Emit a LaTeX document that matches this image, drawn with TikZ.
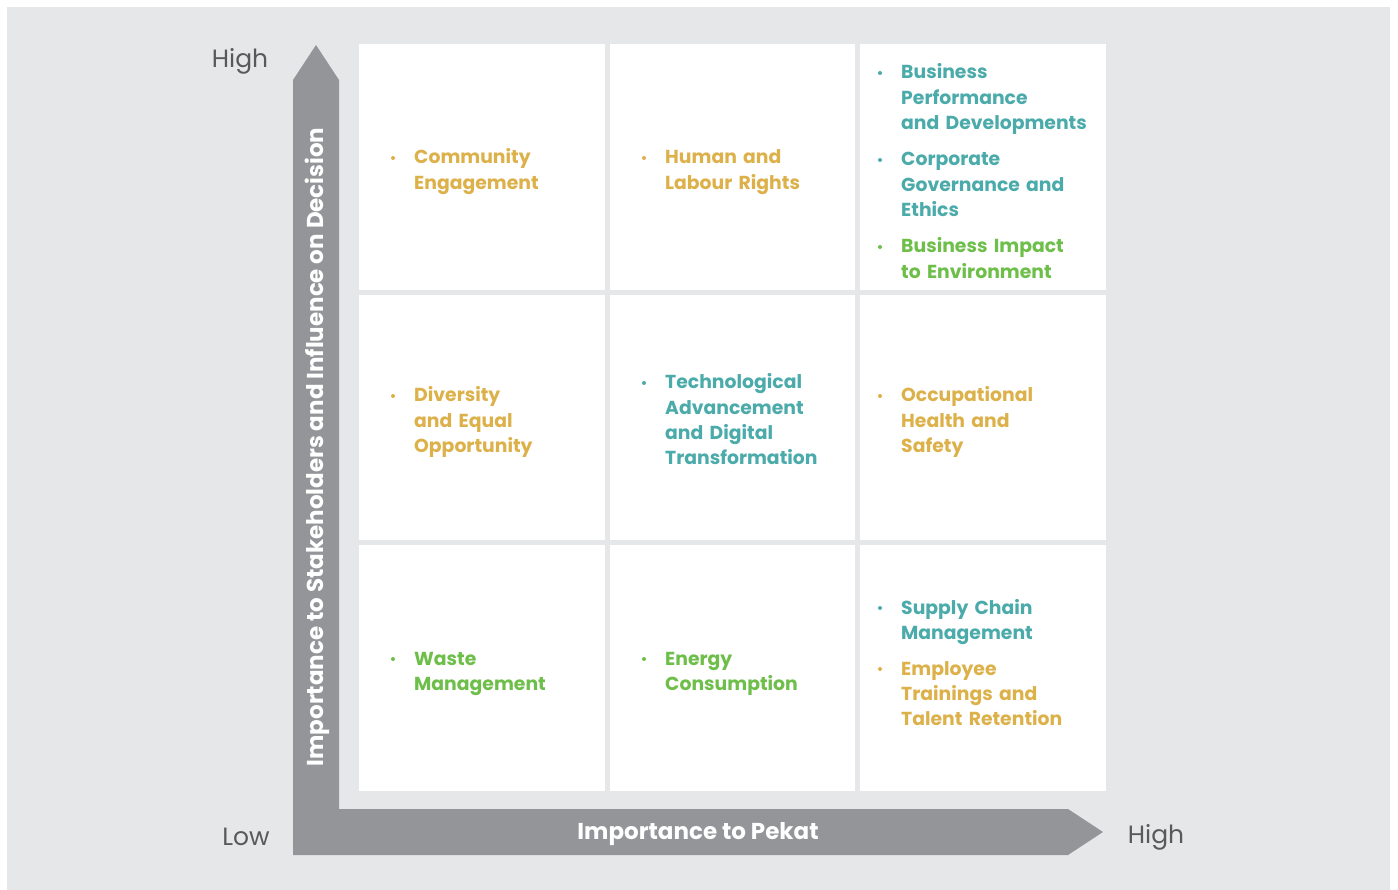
\documentclass[tikz,border=0pt]{standalone}
\usepackage{fontspec}
\setmainfont{Poppins}
\usetikzlibrary{positioning}
\definecolor{Canvas}{HTML}{E6E7E8}
\definecolor{Axis}{HTML}{939598}
\definecolor{Ink}{HTML}{58595B}
\definecolor{Gold}{HTML}{DDB14A}
\definecolor{Teal}{HTML}{4BAAAA}
\definecolor{Green}{HTML}{6EBE4A}
\tikzset{
  cell/.style={fill=white,minimum width=245.5pt,minimum height=245.5pt,inner sep=0pt,anchor=north west},
  issue/.style={anchor=base west,inner sep=0pt,text width=195pt,align=left,text=#1,font=\fontsize{18.8}{25.3}\selectfont\bfseries},
  level/.style={text=Ink,font=\fontsize{25}{30}\selectfont},
  axislab/.style={text=white,font=\fontsize{23}{27}\selectfont\bfseries},
}
% one bulleted topic: name, x, y (first baseline), colour, text
\newcommand\issue[5]{%
  \node[issue=#4] (#1) at (#2,#3) {#5};
  \fill[#4] ([xshift=-21pt,yshift=6pt]#1.base west) circle (2pt);}

\begin{document}
\begin{tikzpicture}[x=1pt,y=-1pt]
  \fill[white] (0,0) rectangle (1398,890);
  \useasboundingbox (0,0) rectangle (1398,890);
  \fill[Canvas] (7,7) rectangle (1390,890);

  % both axes as one L-shaped arrow
  \fill[Axis] (293,855) -- (293,80) -- (316,45) -- (339,80) -- (339,809)
    -- (1068,809) -- (1103,832) -- (1068,855) -- cycle;
  \node[axislab,rotate=90] (ylab) at (317,447) {Importance to Stakeholders and Influence on Decision};
  \node[axislab] (xlab) at (698,834) {Importance to Pekat};
  \node[level] (yhigh) at (240,61) {High};
  \node[level] (low) at (246,837) {Low};
  \node[level] (xhigh) at (1156,837) {High};

  % 3x3 grid
  \foreach \r in {1,2,3}
    \foreach \c in {1,2,3}
      \node[cell] (cell-\r-\c) at ({359+250.5*(\c-1)},{44+250.5*(\r-1)}) {};

  % top row
  \issue{comm}{414}{164}{Gold}{Community\\Engagement}
  \issue{human}{665}{164}{Gold}{Human and\\Labour Rights}
  \issue{bizperf}{901}{79}{Teal}{Business\\Performance\\and Developments}
  \issue{gov}{901}{166}{Teal}{Corporate\\Governance and\\Ethics}
  \issue{bizenv}{901}{253}{Green}{Business Impact\\to Environment}
  % middle row
  \issue{diverse}{414}{402}{Gold}{Diversity\\and Equal\\Opportunity}
  \issue{tech}{665}{389}{Teal}{Technological\\Advancement\\and Digital\\Transformation}
  \issue{ohs}{901}{402}{Gold}{Occupational\\Health and\\Safety}
  % bottom row
  \issue{waste}{414}{665}{Green}{Waste\\Management}
  \issue{energy}{665}{665}{Green}{Energy\\Consumption}
  \issue{supply}{901}{614}{Teal}{Supply Chain\\Management}
  \issue{train}{901}{675}{Gold}{Employee\\Trainings and\\Talent Retention}
\end{tikzpicture}
\end{document}
